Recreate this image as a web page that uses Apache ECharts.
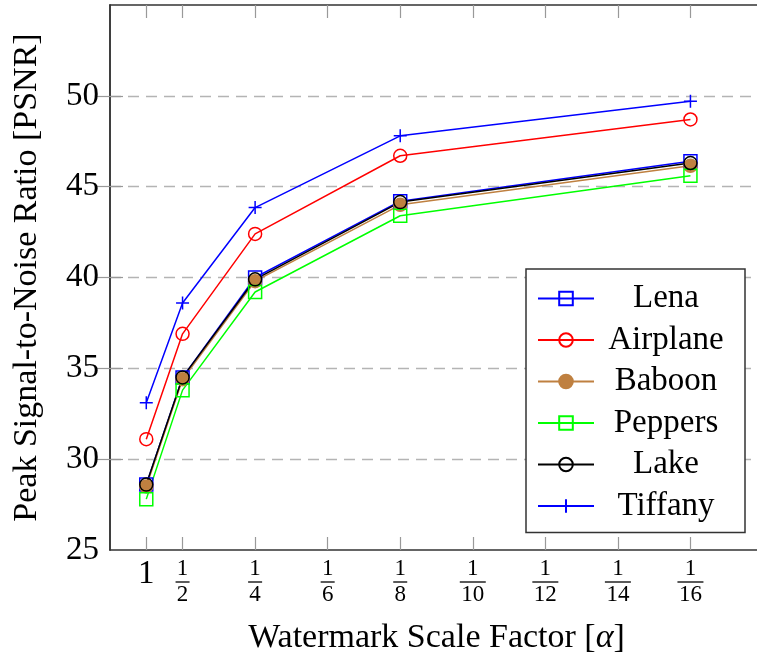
<!DOCTYPE html>
<html>
<head>
<meta charset="utf-8">
<script src="https://cdn.jsdelivr.net/npm/echarts@6/dist/echarts.min.js"></script>
<style>
  html, body { margin: 0; padding: 0; background: #fff; }
  #chart { width: 757px; height: 660px; }
</style>
</head>
<body>
<div id="chart"></div>
<script>
// x is the denominator of alpha (1, 1/2, 1/4 ...)
var xTicks = [1, 2, 4, 6, 8, 10, 12, 14, 16];
var xData = [1, 2, 4, 8, 16];
var yTicks = [30, 35, 40, 45, 50];

var lena     = [28.6, 34.5, 40.0, 44.2, 46.4];
var airplane = [31.1, 36.9, 42.4, 46.7, 48.7];
var baboon   = [28.5, 34.4, 39.8, 44.0, 46.15];
var peppers  = [27.8, 33.8, 39.2, 43.4, 45.6];
var lake     = [28.6, 34.5, 39.9, 44.15, 46.3];
var tiffany  = [33.1, 38.6, 43.85, 47.8, 49.7];

var FONT = 'Liberation Serif';

function pairs(arr) {
    return xData.map(function (x, i) { return [x, arr[i]]; });
}

// fraction labels 1, 1/2, 1/4 ...
function fracLabel(v) {
    if (v === 1) return '{one|1}';
    var d = String(v);
    return '{n|1}\n{' + (d.length > 1 ? 'bar2' : 'bar1') + '| }\n{d|' + d + '}';
}

function makeSeries(name, data, color, symbol, fill) {
    return {
        name: name,
        type: 'line',
        data: pairs(data),
        symbol: symbol,
        symbolSize: 13,
        showSymbol: true,
        animation: false,
        lineStyle: { color: color, width: 1.5 },
        itemStyle: {
            color: fill || 'rgba(0,0,0,0)',
            borderColor: fill ? fill : color,
            borderWidth: 1.5
        },
        emphasis: { disabled: true }
    };
}

var myChart = echarts.init(document.getElementById('chart'));
var option = {
    backgroundColor: '#fff',
    animation: false,
    grid: {
        left: 110,
        top: 5,
        width: 653,
        height: 545,
        containLabel: false,
        outerBoundsMode: 'none'
    },
    legend: {
        orient: 'vertical',
        left: 526,
        top: 269,
        padding: [13, 12, 10, 11],
        itemWidth: 56,
        itemHeight: 17,
        itemGap: 8.5,
        backgroundColor: '#fff',
        borderColor: '#333',
        borderWidth: 1.5,
        borderRadius: 0,
        formatter: function (name) { return '{c|' + name + '}'; },
        textStyle: {
            fontFamily: FONT,
            fontSize: 33,
            color: '#000',
            rich: {
                c: { width: 134, align: 'center', fontFamily: FONT, fontSize: 33, lineHeight: 34 }
            }
        },
        data: ['Lena', 'Airplane', 'Baboon', 'Peppers', 'Lake', 'Tiffany']
    },
    xAxis: [{
        type: 'value',
        position: 'bottom',
        min: 0,
        max: 18,
        interval: 1,
        name: 'Watermark Scale Factor [{a|α}]',
        nameLocation: 'middle',
        nameGap: 71,
        nameTextStyle: {
            fontFamily: FONT,
            fontSize: 34,
            color: '#000',
            rich: { a: { fontFamily: FONT, fontSize: 34, fontStyle: 'italic' } }
        },
        axisLine: { show: true, lineStyle: { color: '#333', width: 1.5 } },
        axisTick: {
            show: true,
            inside: true,
            length: 13,
            customValues: xTicks,
            lineStyle: { color: '#999', width: 1.2 }
        },
        axisLabel: {
            show: true,
            margin: 8,
            customValues: xTicks,
            formatter: fracLabel,
            color: '#000',
            fontFamily: FONT,
            rich: {
                one: { fontFamily: FONT, fontSize: 33, lineHeight: 33 },
                n: { fontFamily: FONT, fontSize: 23, lineHeight: 22, align: 'center' },
                bar1: { width: 14, height: 1.3, lineHeight: 4, backgroundColor: '#000' },
                bar2: { width: 26, height: 1.3, lineHeight: 4, backgroundColor: '#000' },
                d: { fontFamily: FONT, fontSize: 23, lineHeight: 22, align: 'center' }
            }
        },
        splitLine: { show: false }
    }, {
        type: 'value',
        position: 'top',
        min: 0,
        max: 18,
        interval: 1,
        axisLine: { show: true, lineStyle: { color: '#333', width: 1.5 } },
        axisTick: {
            show: true,
            inside: true,
            length: 13,
            customValues: xTicks,
            lineStyle: { color: '#999', width: 1.2 }
        },
        axisLabel: { show: false },
        splitLine: { show: false }
    }],
    yAxis: [{
        type: 'value',
        position: 'left',
        min: 25,
        max: 55,
        interval: 5,
        name: 'Peak Signal-to-Noise Ratio [PSNR]',
        nameLocation: 'middle',
        nameRotate: 90,
        nameGap: 66,
        nameTextStyle: { fontFamily: FONT, fontSize: 34, color: '#000' },
        axisLine: { show: true, lineStyle: { color: '#333', width: 1.5 } },
        axisTick: {
            show: true,
            inside: true,
            length: 13,
            customValues: yTicks,
            lineStyle: { color: '#999', width: 1.2 }
        },
        axisLabel: {
            margin: 11,
            color: '#000',
            fontFamily: FONT,
            fontSize: 33,
            formatter: function (v) { return v >= 55 ? '' : String(v); }
        },
        splitLine: { show: true, lineStyle: { color: '#b4b4b4', width: 1.3, type: [11, 7] } }
    }, {
        type: 'value',
        position: 'right',
        min: 25,
        max: 55,
        interval: 5,
        axisLine: { show: true, lineStyle: { color: '#333', width: 1.5 } },
        axisTick: {
            show: true,
            inside: true,
            length: 13,
            customValues: yTicks,
            lineStyle: { color: '#999', width: 1.2 }
        },
        axisLabel: { show: false },
        splitLine: { show: false }
    }],
    series: [
        makeSeries('Lena', lena, '#0000ff', 'rect'),
        makeSeries('Airplane', airplane, '#ff0000', 'circle'),
        makeSeries('Baboon', baboon, '#bf8040', 'circle', '#bf8040'),
        makeSeries('Peppers', peppers, '#00ff00', 'rect'),
        makeSeries('Lake', lake, '#000000', 'circle'),
        makeSeries('Tiffany', tiffany, '#0000ff', 'path://M0,5L10,5M5,0L5,10')
    ]
};
myChart.setOption(option);
</script>
</body>
</html>
